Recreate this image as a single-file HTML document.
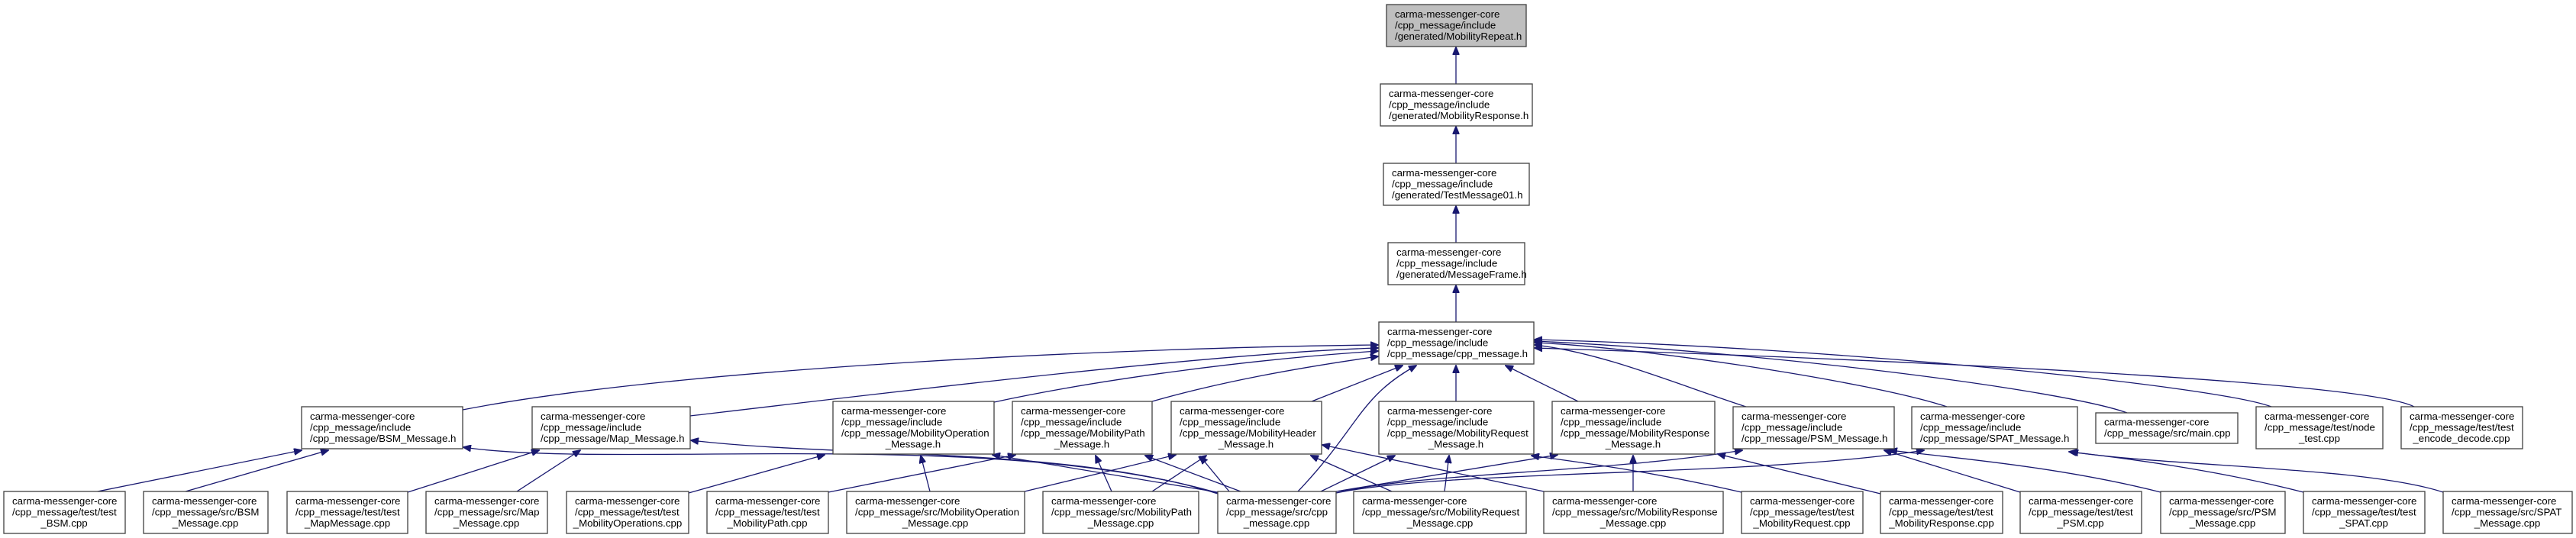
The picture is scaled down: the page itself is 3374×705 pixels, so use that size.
<!DOCTYPE html>
<html><head><meta charset="utf-8"><style>
html,body{margin:0;padding:0;background:#fff;}
svg{display:block;}
text{font-family:"Liberation Sans",Arial,sans-serif;font-size:13.3px;fill:#000;}
.b{fill:#fff;stroke:#404040;stroke-width:1.3;}
.e{fill:none;stroke:#191970;stroke-width:1.3;marker-end:url(#a);}
</style></head><body>
<svg width="3374" height="705" viewBox="0 0 3374 705" xmlns="http://www.w3.org/2000/svg">
<defs><marker id="a" markerUnits="userSpaceOnUse" markerWidth="11" markerHeight="9" refX="10" refY="4.5" orient="auto"><path d="M0,0 L11,4.5 L0,9 z" fill="#191970" stroke="#191970"/></marker></defs>

<!-- edges -->
<g>
<path class="e" d="M1907,110 L1907,62"/>
<path class="e" d="M1907,214 L1907,166"/>
<path class="e" d="M1907,318 L1907,270"/>
<path class="e" d="M1907,422 L1907,374"/>
<path class="e" d="M606,537 C900,480 1500,455 1805,452"/>
<path class="e" d="M904,545 C1200,510 1600,462 1805,456"/>
<path class="e" d="M1302,527 C1450,495 1650,470 1805,460"/>
<path class="e" d="M1509,526 C1600,500 1700,482 1805,467"/>
<path class="e" d="M1718,526 L1837,479"/>
<path class="e" d="M1907,526 L1907,479"/>
<path class="e" d="M2067,526 L1972,479"/>
<path class="e" d="M2287,533 C2200,505 2100,462 2010,452"/>
<path class="e" d="M2550,533 C2450,500 2150,455 2010,449"/>
<path class="e" d="M2786,541 C2700,510 2300,460 2010,447"/>
<path class="e" d="M2975,533 C2900,505 2400,455 2010,445"/>
<path class="e" d="M3162,533 C3100,500 2500,472 2010,456"/>
<path class="e" d="M1700,644 C1780,560 1780,520 1855,479"/>

<path class="e" d="M123,645 L395,590"/>
<path class="e" d="M243,644 L430,590"/>
<path class="e" d="M1595,646 C1300,560 800,615 607,586"/>
<path class="e" d="M534,645 L706,590"/>
<path class="e" d="M677,644 L760,590"/>
<path class="e" d="M1595,647 C1400,585 1100,600 905,577"/>
<path class="e" d="M902,646 L1080,596"/>
<path class="e" d="M1218,644 L1206,597"/>
<path class="e" d="M1595,645 L1300,596"/>
<path class="e" d="M1342,644 L1540,596"/>
<path class="e" d="M1085,645 L1330,596"/>
<path class="e" d="M1456,644 L1435,597"/>
<path class="e" d="M1509,644 L1580,597"/>
<path class="e" d="M1625,644 L1500,597"/>
<path class="e" d="M1610,644 L1572,598"/>
<path class="e" d="M1823,644 L1717,597"/>
<path class="e" d="M2022,644 L1732,583"/>
<path class="e" d="M1730,644 L1827,597"/>
<path class="e" d="M1892,644 L1898,597"/>
<path class="e" d="M1750,644 L2040,596"/>
<path class="e" d="M2281,645 C2150,615 2060,605 2006,597"/>
<path class="e" d="M2139,644 L2139,597"/>
<path class="e" d="M2463,647 L2250,595"/>
<path class="e" d="M1750,646 C1850,620 2100,620 2282,590"/>
<path class="e" d="M1750,646 C1900,615 2300,625 2520,590"/>
<path class="e" d="M2646,645 L2468,590"/>
<path class="e" d="M2830,645 C2700,612 2560,600 2475,590"/>
<path class="e" d="M3017,645 C2900,615 2780,600 2710,592"/>
<path class="e" d="M3200,645 C3100,612 2850,612 2712,592"/>
</g>

<!-- top chain -->
<rect x="1816" y="6" width="183" height="55" fill="#bfbfbf" stroke="#404040" stroke-width="1.3"/>
<text x="1827" y="23">carma-messenger-core</text><text x="1827" y="37.5">/cpp_message/include</text><text x="1827" y="52">/generated/MobilityRepeat.h</text>
<rect class="b" x="1808" y="110" width="199" height="55"/>
<text x="1819" y="127">carma-messenger-core</text><text x="1819" y="141.5">/cpp_message/include</text><text x="1819" y="156">/generated/MobilityResponse.h</text>
<rect class="b" x="1812" y="214" width="191" height="55"/>
<text x="1823" y="231">carma-messenger-core</text><text x="1823" y="245.5">/cpp_message/include</text><text x="1823" y="260">/generated/TestMessage01.h</text>
<rect class="b" x="1818" y="318" width="179" height="55"/>
<text x="1829" y="335">carma-messenger-core</text><text x="1829" y="349.5">/cpp_message/include</text><text x="1829" y="364">/generated/MessageFrame.h</text>
<rect class="b" x="1806" y="422" width="203" height="55"/>
<text x="1817" y="439">carma-messenger-core</text><text x="1817" y="453.5">/cpp_message/include</text><text x="1817" y="468">/cpp_message/cpp_message.h</text>

<!-- middle row -->
<rect class="b" x="395" y="533" width="211" height="55"/>
<text x="406" y="550">carma-messenger-core</text><text x="406" y="564.5">/cpp_message/include</text><text x="406" y="579">/cpp_message/BSM_Message.h</text>
<rect class="b" x="697" y="533" width="207" height="55"/>
<text x="708" y="550">carma-messenger-core</text><text x="708" y="564.5">/cpp_message/include</text><text x="708" y="579">/cpp_message/Map_Message.h</text>
<rect class="b" x="1091" y="526" width="211" height="69"/>
<text x="1102" y="543">carma-messenger-core</text><text x="1102" y="557.5">/cpp_message/include</text><text x="1102" y="572">/cpp_message/MobilityOperation</text><text x="1196" y="586.5" text-anchor="middle">_Message.h</text>
<rect class="b" x="1326" y="526" width="183" height="69"/>
<text x="1337" y="543">carma-messenger-core</text><text x="1337" y="557.5">/cpp_message/include</text><text x="1337" y="572">/cpp_message/MobilityPath</text><text x="1417" y="586.5" text-anchor="middle">_Message.h</text>
<rect class="b" x="1534" y="526" width="197" height="69"/>
<text x="1545" y="543">carma-messenger-core</text><text x="1545" y="557.5">/cpp_message/include</text><text x="1545" y="572">/cpp_message/MobilityHeader</text><text x="1632" y="586.5" text-anchor="middle">_Message.h</text>
<rect class="b" x="1806" y="526" width="203" height="69"/>
<text x="1817" y="543">carma-messenger-core</text><text x="1817" y="557.5">/cpp_message/include</text><text x="1817" y="572">/cpp_message/MobilityRequest</text><text x="1907" y="586.5" text-anchor="middle">_Message.h</text>
<rect class="b" x="2033" y="526" width="213" height="69"/>
<text x="2044" y="543">carma-messenger-core</text><text x="2044" y="557.5">/cpp_message/include</text><text x="2044" y="572">/cpp_message/MobilityResponse</text><text x="2139" y="586.5" text-anchor="middle">_Message.h</text>
<rect class="b" x="2270" y="533" width="211" height="55"/>
<text x="2281" y="550">carma-messenger-core</text><text x="2281" y="564.5">/cpp_message/include</text><text x="2281" y="579">/cpp_message/PSM_Message.h</text>
<rect class="b" x="2504" y="533" width="217" height="55"/>
<text x="2515" y="550">carma-messenger-core</text><text x="2515" y="564.5">/cpp_message/include</text><text x="2515" y="579">/cpp_message/SPAT_Message.h</text>
<rect class="b" x="2745" y="541" width="186" height="40"/>
<text x="2756" y="557.5">carma-messenger-core</text><text x="2756" y="572">/cpp_message/src/main.cpp</text>
<rect class="b" x="2955" y="533" width="166" height="55"/>
<text x="2966" y="550">carma-messenger-core</text><text x="2966" y="564.5">/cpp_message/test/node</text><text x="3038" y="579" text-anchor="middle">_test.cpp</text>
<rect class="b" x="3145" y="533" width="159" height="55"/>
<text x="3156" y="550">carma-messenger-core</text><text x="3156" y="564.5">/cpp_message/test/test</text><text x="3224" y="579" text-anchor="middle">_encode_decode.cpp</text>

<!-- bottom row -->
<g>
<rect class="b" x="5" y="644" width="159" height="55"/>
<text x="16" y="661">carma-messenger-core</text><text x="16" y="675.5">/cpp_message/test/test</text><text x="84" y="690" text-anchor="middle">_BSM.cpp</text>
<rect class="b" x="188" y="644" width="163" height="55"/>
<text x="199" y="661">carma-messenger-core</text><text x="199" y="675.5">/cpp_message/src/BSM</text><text x="269" y="690" text-anchor="middle">_Message.cpp</text>
<rect class="b" x="376" y="644" width="158" height="55"/>
<text x="387" y="661">carma-messenger-core</text><text x="387" y="675.5">/cpp_message/test/test</text><text x="455" y="690" text-anchor="middle">_MapMessage.cpp</text>
<rect class="b" x="558" y="644" width="159" height="55"/>
<text x="569" y="661">carma-messenger-core</text><text x="569" y="675.5">/cpp_message/src/Map</text><text x="637" y="690" text-anchor="middle">_Message.cpp</text>
<rect class="b" x="742" y="644" width="160" height="55"/>
<text x="753" y="661">carma-messenger-core</text><text x="753" y="675.5">/cpp_message/test/test</text><text x="822" y="690" text-anchor="middle">_MobilityOperations.cpp</text>
<rect class="b" x="926" y="644" width="159" height="55"/>
<text x="937" y="661">carma-messenger-core</text><text x="937" y="675.5">/cpp_message/test/test</text><text x="1005" y="690" text-anchor="middle">_MobilityPath.cpp</text>
<rect class="b" x="1109" y="644" width="233" height="55"/>
<text x="1120" y="661">carma-messenger-core</text><text x="1120" y="675.5">/cpp_message/src/MobilityOperation</text><text x="1225" y="690" text-anchor="middle">_Message.cpp</text>
<rect class="b" x="1366" y="644" width="204" height="55"/>
<text x="1377" y="661">carma-messenger-core</text><text x="1377" y="675.5">/cpp_message/src/MobilityPath</text><text x="1468" y="690" text-anchor="middle">_Message.cpp</text>
<rect class="b" x="1595" y="644" width="155" height="55"/>
<text x="1606" y="661">carma-messenger-core</text><text x="1606" y="675.5">/cpp_message/src/cpp</text><text x="1672" y="690" text-anchor="middle">_message.cpp</text>
<rect class="b" x="1773" y="644" width="226" height="55"/>
<text x="1784" y="661">carma-messenger-core</text><text x="1784" y="675.5">/cpp_message/src/MobilityRequest</text><text x="1886" y="690" text-anchor="middle">_Message.cpp</text>
<rect class="b" x="2022" y="644" width="235" height="55"/>
<text x="2033" y="661">carma-messenger-core</text><text x="2033" y="675.5">/cpp_message/src/MobilityResponse</text><text x="2139" y="690" text-anchor="middle">_Message.cpp</text>
<rect class="b" x="2281" y="644" width="159" height="55"/>
<text x="2292" y="661">carma-messenger-core</text><text x="2292" y="675.5">/cpp_message/test/test</text><text x="2360" y="690" text-anchor="middle">_MobilityRequest.cpp</text>
<rect class="b" x="2463" y="644" width="160" height="55"/>
<text x="2474" y="661">carma-messenger-core</text><text x="2474" y="675.5">/cpp_message/test/test</text><text x="2543" y="690" text-anchor="middle">_MobilityResponse.cpp</text>
<rect class="b" x="2646" y="644" width="159" height="55"/>
<text x="2657" y="661">carma-messenger-core</text><text x="2657" y="675.5">/cpp_message/test/test</text><text x="2725" y="690" text-anchor="middle">_PSM.cpp</text>
<rect class="b" x="2830" y="644" width="163" height="55"/>
<text x="2841" y="661">carma-messenger-core</text><text x="2841" y="675.5">/cpp_message/src/PSM</text><text x="2911" y="690" text-anchor="middle">_Message.cpp</text>
<rect class="b" x="3017" y="644" width="159" height="55"/>
<text x="3028" y="661">carma-messenger-core</text><text x="3028" y="675.5">/cpp_message/test/test</text><text x="3096" y="690" text-anchor="middle">_SPAT.cpp</text>
<rect class="b" x="3200" y="644" width="169" height="55"/>
<text x="3211" y="661">carma-messenger-core</text><text x="3211" y="675.5">/cpp_message/src/SPAT</text><text x="3284" y="690" text-anchor="middle">_Message.cpp</text>
</g>
</svg>
</body></html>
